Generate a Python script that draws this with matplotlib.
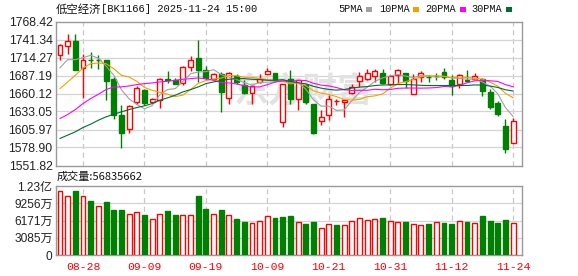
import numpy as np
import matplotlib.pyplot as plt
from matplotlib.patches import Rectangle

# trading days shown (08-25 .. 11-24)
dates = ['08-25', '08-26', '08-27', '08-28', '08-29',
         '09-01', '09-02', '09-03', '09-04', '09-05', '09-08', '09-09', '09-10',
         '09-11', '09-12', '09-15', '09-16', '09-17', '09-18', '09-19', '09-22',
         '09-23', '09-24', '09-25', '09-26', '09-29', '09-30',
         '10-09', '10-10', '10-13', '10-14', '10-15', '10-16', '10-17', '10-20',
         '10-21', '10-22', '10-23', '10-24', '10-27', '10-28', '10-29', '10-30',
         '10-31', '11-03', '11-04', '11-05', '11-06', '11-07', '11-10', '11-11',
         '11-12', '11-13', '11-14', '11-17', '11-18', '11-19', '11-20', '11-21',
         '11-24']

opens = [1717.5, 1731, 1738.5, 1699, 1711, 1711, 1711, 1682.5, 1628.5, 1606,
         1647.5, 1665, 1648, 1651, 1682, 1680, 1676.5, 1700, 1714, 1695,
         1682.5, 1690, 1653.5, 1686, 1672.5, 1661, 1677.5, 1690, 1691, 1617.5,
         1682.5, 1651.5, 1672.5, 1644, 1619, 1628.5, 1649, 1647, 1661.5, 1679,
         1682.5, 1686.5, 1691.5, 1675, 1687.5, 1691.5, 1660, 1685, 1685.5, 1686,
         1692.5, 1681, 1674, 1681, 1682.5, 1682.5, 1662.5, 1646, 1611, 1586]
highs = [1735, 1749, 1750, 1720, 1722.5, 1718.5, 1711, 1685, 1642.5, 1642.5,
         1671, 1667, 1654, 1684, 1694, 1684, 1701, 1716.5, 1740, 1701,
         1691, 1692.5, 1692.5, 1690, 1681, 1672.5, 1689, 1699, 1691, 1675,
         1696, 1681, 1675, 1644, 1635, 1657.5, 1652.5, 1652, 1674, 1692.5,
         1697, 1696.5, 1696.5, 1687.5, 1696.5, 1691.5, 1690, 1693.5, 1688.5, 1691,
         1698.5, 1687.5, 1690, 1695, 1691.5, 1683, 1667.5, 1648.5, 1622.5, 1624]
lows = [1711, 1720, 1695, 1654, 1698.5, 1697.5, 1650, 1622.5, 1577.5, 1600,
        1645, 1643, 1646, 1639, 1676, 1674, 1673.5, 1694, 1677.5, 1680,
        1680, 1632.5, 1645, 1675, 1660, 1645, 1676, 1689, 1677.5, 1610,
        1645, 1636, 1645, 1599, 1612.5, 1621, 1642.5, 1625, 1660, 1670,
        1681, 1677.5, 1675, 1672.5, 1675, 1668.5, 1660, 1677.5, 1677.5, 1681,
        1682.5, 1657.5, 1669, 1677.5, 1681, 1656, 1637.5, 1626, 1571, 1586]
closes = [1732.5, 1738.5, 1696, 1711, 1710, 1710.5, 1679, 1628.5, 1601, 1641.5,
          1668.5, 1646, 1652.5, 1682.5, 1681, 1675, 1700, 1711, 1695, 1684,
          1690, 1662.5, 1691.5, 1677.5, 1661, 1671, 1682.5, 1694, 1680, 1674,
          1652, 1681, 1647.5, 1600, 1625, 1651.5, 1649.5, 1651, 1670, 1686,
          1691, 1694, 1676.5, 1686, 1696, 1679, 1682.5, 1691.5, 1684.5, 1685.5,
          1685, 1671.5, 1687.5, 1679, 1686, 1663.5, 1640, 1630, 1576, 1618.5]

# volume in 万 (10k)
volumes = [11450, 10550, 11450, 10550, 9660, 8760, 9480, 8050, 8050, 7330,
           7630, 7150, 6440, 7330, 7870, 7150, 7150, 7150, 10550, 8230,
           7330, 8050, 7150, 6440, 5960, 5720, 6020, 6920, 6620, 6800,
           6980, 5870, 5545, 5900, 4770, 5485, 5366, 5306, 6020, 6558,
           6200, 6379, 6558, 6020, 5843, 5900, 5545, 5306, 5545, 5843,
           5724, 5545, 6020, 5900, 5724, 6976, 6081, 5783, 6260, 5683.5662]

# moving-average values before enough bars are on screen
ma5_head = [1699, 1711, 1711, 1714]
ma10_head = [1667.5, 1677.5, 1687.5, 1698.5, 1705, 1706, 1705, 1697.5, 1687.5]
ma20_head = [1622.5, 1628.5, 1636, 1645, 1652.5, 1659, 1666, 1670, 1670,
             1671.5, 1673.5, 1675, 1676, 1677.5, 1678.5, 1680, 1681.5, 1682.5,
             1683.5]
ma30_head = [1592.5, 1597.5, 1602.5, 1609, 1614, 1620, 1625, 1629, 1632.5,
             1636, 1639, 1641.5, 1645, 1650, 1653.5, 1657.5, 1662.5, 1666,
             1670, 1675, 1677.5, 1680, 1681.5, 1682.5, 1682.5, 1681.5, 1681,
             1680, 1680]

price_ticks = ['1551.82', '1578.90', '1605.97', '1633.05', '1660.12',
               '1687.19', '1714.27', '1741.34', '1768.42']
vol_ticks = [0, 3085.5, 6171, 9256.5, 12342]
vol_labels = ['0', '3085万', '6171万', '9256万', '1.23亿']
label_idx = [3, 11, 19, 27, 35, 43, 51, 59]

RED = '#ff0000'
GREEN = '#008000'
MA_COLORS = ['#a0a0a0', '#f5a000', '#ff00ff', '#006c35']

def moving_avg(vals, n, head):
    tail = np.convolve(vals, np.ones(n) / n, mode='valid')
    return np.concatenate([head, tail])

closes_a = np.array(closes)
mas = [moving_avg(closes_a, 5, ma5_head), moving_avg(closes_a, 10, ma10_head),
       moving_avg(closes_a, 20, ma20_head), moving_avg(closes_a, 30, ma30_head)]

W, H = 578, 276
fig = plt.figure(figsize=(W / 100, H / 100), dpi=100)

def px_axes(x0, y0, x1, y1):
    return fig.add_axes([x0 / W, 1 - y1 / H, (x1 - x0) / W, (y1 - y0) / H])

ax = px_axes(56, 21.5, 522, 165.5)
axv = px_axes(56, 186, 522, 255)

n = len(closes)
xs = np.arange(n)
bw = 0.64

for a in (ax, axv):
    a.set_xlim(-0.52, 60.16)
    a.set_axisbelow(True)
    for s in a.spines.values():
        s.set_color('#9a9a9a')
        s.set_linewidth(1.0)
    for i in label_idx:
        a.axvline(i, color='#c8c8c8', lw=0.9, ls=(0, (4, 3)), zorder=0.5)
    a.tick_params(length=0)

# price panel
lo, hi = float(price_ticks[0]), float(price_ticks[-1])
ax.set_ylim(lo, hi)
pt = [float(t) for t in price_ticks]
ax.set_yticks(pt)
ax.set_yticklabels(price_ticks, family='Liberation Sans', fontsize=8.8, color='#222222')
ax.tick_params(axis='y', pad=2.5)
ax.set_xticks([])
for v in pt[1:-1]:
    ax.axhline(v, color='#d4d4d4', lw=0.9, zorder=0.5)

# faint watermark
ax.text(0.53, 0.52, '东方财富', transform=ax.transAxes, ha='center', va='center',
        fontsize=25, fontweight='bold', color='#e2e2e2', family='Noto Sans CJK SC', zorder=0.8)

for i in range(n):
    o, h, l, c = opens[i], highs[i], lows[i], closes[i]
    up = c >= o
    col = RED if up else GREEN
    bot, top = min(o, c), max(o, c)
    ax.vlines(i, l, bot, color=col, lw=1, zorder=2)
    ax.vlines(i, top, h, color=col, lw=1, zorder=2)
    if top - bot < 0.6:
        ax.hlines(o, i - bw / 2, i + bw / 2, color=col, lw=1, zorder=3)
    else:
        ax.add_patch(Rectangle((i - bw / 2, bot), bw, top - bot,
                               facecolor='white' if up else col, edgecolor=col,
                               lw=1, zorder=3))

for m, col in zip(mas, MA_COLORS):
    ax.plot(xs, m, color=col, lw=0.8, zorder=4)

# volume panel
axv.set_ylim(0, vol_ticks[-1])
axv.set_yticks(vol_ticks)
axv.set_yticklabels(vol_labels, family=['Liberation Sans', 'Noto Sans CJK SC'],
                    fontsize=8.6, color='#222222')
axv.tick_params(axis='y', pad=2.5)
for v in vol_ticks[1:-1]:
    axv.axhline(v, color='#d4d4d4', lw=0.9, zorder=0.5)
for i in range(n):
    if i == 0:
        up = closes[0] >= opens[0]
    else:
        up = closes[i] >= closes[i - 1]
    col = RED if up else GREEN
    axv.add_patch(Rectangle((i - bw / 2, 0), bw, volumes[i],
                            facecolor='white' if up else col, edgecolor=col,
                            lw=1, zorder=3))
axv.set_xticks(label_idx)
axv.set_xticklabels([dates[i] for i in label_idx], family='Liberation Mono',
                    fontsize=8.2, color=RED)
axv.tick_params(axis='x', pad=5)

# header texts
fig.text(56 / W, 1 - 9.5 / H, '低空经济', family='Noto Sans CJK SC', fontsize=8.2,
         va='center', ha='left', color='#111111')
fig.text(101 / W, 1 - 9.5 / H, '[BK1166] 2025-11-24 15:00', family='Liberation Mono',
         fontsize=7.6, va='center', ha='left', color='#111111')

legend = [('5PMA', 338, 366), ('10PMA', 379, 413), ('20PMA', 425, 460), ('30PMA', 471, 506)]
for (lab, tx, sx), col in zip(legend, MA_COLORS):
    fig.text(tx / W, 1 - 9.5 / H, lab, family='Liberation Mono', fontsize=7.4,
             va='center', ha='left', color='#111111')
    fig.add_artist(Rectangle((sx / W, 1 - 12 / H), 6 / W, 5 / H,
                             transform=fig.transFigure, facecolor=col, edgecolor='none'))

fig.text(57 / W, 1 - 176.5 / H, '成交量:56835662', family=['Noto Sans CJK SC', 'DejaVu Sans'],
         fontsize=8, va='center', ha='left', color='#111111')

fig.savefig('out.png', dpi=100)
